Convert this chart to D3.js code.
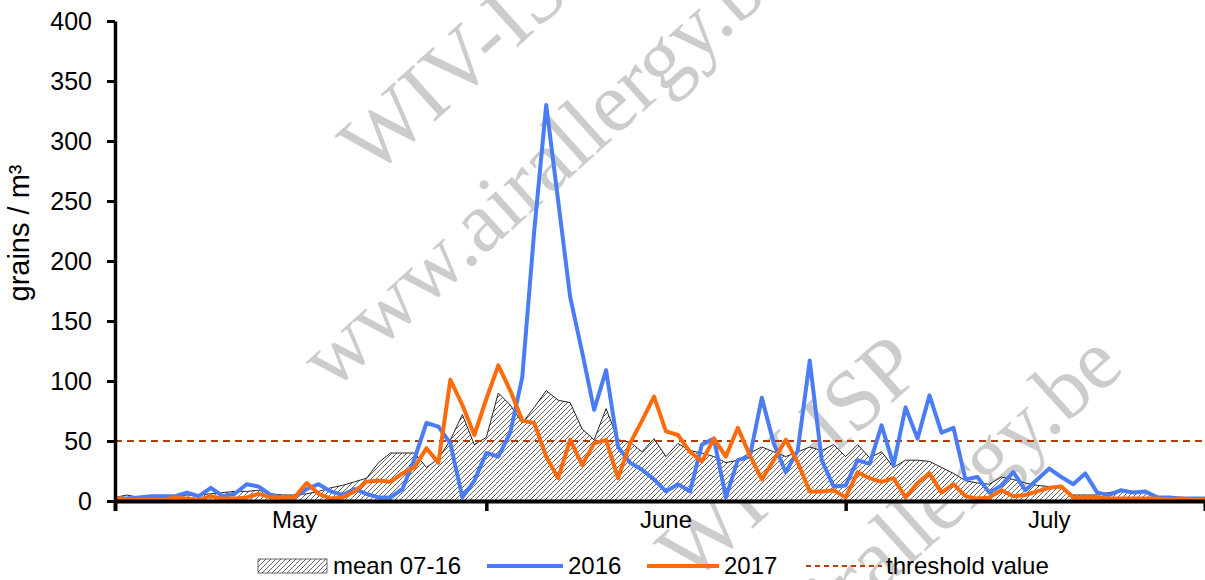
<!DOCTYPE html>
<html><head><meta charset="utf-8">
<script src="https://cdn.jsdelivr.net/npm/d3@7"></script>
<style>
body{margin:0;background:#fff}
svg{display:block}
text{font-family:"Liberation Sans",Arial,sans-serif;fill:#000}
</style>
</head><body>
<svg id="chart" width="1205" height="580"></svg>
<script>
// ---- data ----
const startDate = "2017-05-01";
const endDate = "2017-07-31";
const mean0716 = [3,5,3,4,4,4,5,5,6,7, 8,8,9,6,5,5,6,8,11,13, 16,19,32,40,40,40,28,35,51,72, 47,53,90,80,65,78,92,84,82,60, 51,77,51,49,41,52,37,48,42,40, 37,32,34,40,45,41,37,41,45,42, 47,37,47,36,41,28,34,34,33,28, 23,17,15,14,20,18,15,13,12,12, 5,5,5,7,9,8,7,4,3,2, 2,2];
const values2016 = [2,2,3,4,4,4,7,4,11,4, 6,14,12,5,3,3,10,14,8,5, 10,6,3,3,10,35,65,62,48,3, 17,40,37,57,103,225,330,250,170,124, 76,109,45,32,26,18,8,14,8,47, 52,3,34,37,86,48,24,42,117,34, 12,13,34,31,63,30,78,52,88,57, 61,18,20,7,13,24,9,18,27,20, 14,23,7,5,9,7,8,3,3,2, 2,2];
const values2017 = [3,1,1,1,1,3,2,1,4,2, 2,3,6,3,3,3,15,6,2,3, 8,16,17,16,23,28,44,32,101,80, 55,85,113,92,67,65,37,19,51,30, 48,51,19,48,67,87,58,55,41,33, 52,37,61,38,18,34,51,32,8,8, 9,3,24,19,16,19,3,15,23,7, 14,4,2,3,9,4,5,8,11,12, 3,3,3,2,2,2,2,2,1,2, 1,1];
const thresholdValue = 50;
const yTicks = [0,50,100,150,200,250,300,350,400];
const monthNames = ["May","June","July"];
const monthLabelDates = ["2017-05-16","2017-06-16","2017-07-18"];
const monthBoundaries = ["2017-06-01","2017-07-01"];
const legendLabels = ["mean 07-16","2016","2017","threshold value"];
const yTitle = "grains / m³";
const watermarkLines = ["WIV-ISP","www.airallergy.be"];

// ---- setup ----
const svg = d3.select("#chart");
const parse = d3.utcParse("%Y-%m-%d");
const day0 = parse(startDate);
const dates = mean0716.map((_, i) => d3.utcDay.offset(day0, i));

const x = d3.scaleUtc().domain([day0, parse(endDate)]).range([115, 1205]);
const y = d3.scaleLinear().domain([0, 400]).range([501, 21]);

// pattern
const defs = svg.append("defs");
const pat = defs.append("pattern").attr("id","hatch").attr("patternUnits","userSpaceOnUse")
  .attr("width",5).attr("height",5);
pat.append("rect").attr("width",5).attr("height",5).attr("fill","#fff");
pat.append("path").attr("d","M0,5 L5,0 M-1,1 L1,-1 M4,6 L6,4")
  .attr("stroke","#555").attr("stroke-width",0.9);

// watermark
const wm = svg.append("g").attr("class","watermark");
const wmPlaces = [
  {x:372, y:178, t:0},{x:332, y:392, t:1},
  {x:690, y:585, t:0},{x:660, y:790, t:1}
];
wmPlaces.forEach(p => {
  wm.append("text").attr("transform",`translate(${p.x},${p.y}) rotate(-42)`)
    .style("font-family","'Liberation Serif','DejaVu Serif',serif")
    .attr("font-size",86).style("fill","#cccccc")
    .text(watermarkLines[p.t]);
});

// area
const area = d3.area().x((d,i)=>x(dates[i])).y0(y(0)).y1(d=>y(d));
svg.append("path").datum(mean0716).attr("d",area).attr("fill","url(#hatch)");
const outline = d3.line().x((d,i)=>x(dates[i])).y(d=>y(d));
svg.append("path").datum(mean0716).attr("d",outline).attr("fill","none")
  .attr("stroke","#222").attr("stroke-width",1);

// threshold
svg.append("line").attr("x1",x.range()[0]).attr("x2",x.range()[1])
  .attr("y1",y(thresholdValue)).attr("y2",y(thresholdValue))
  .attr("stroke","#b23c0a").attr("stroke-width",2).attr("stroke-dasharray","7,5");

// lines
const line = d3.line().x((d,i)=>x(dates[i])).y(d=>y(d)).curve(d3.curveLinear);
svg.append("path").datum(values2016).attr("d",line).attr("fill","none")
  .attr("stroke","#4a7cf6").attr("stroke-width",4).attr("stroke-linejoin","round");
svg.append("path").datum(values2017).attr("d",line).attr("fill","none")
  .attr("stroke","#ff6a0a").attr("stroke-width",4).attr("stroke-linejoin","round");

// y axis
const yAxis = svg.append("g").attr("transform","translate(115,0)")
  .call(d3.axisLeft(y).tickValues(yTicks).tickSize(8).tickSizeOuter(0).tickPadding(15));
yAxis.select(".domain").attr("stroke","#000").attr("stroke-width",3.5);
yAxis.selectAll(".tick line").attr("stroke","#000").attr("stroke-width",3);
yAxis.selectAll(".tick text").attr("font-size",25).style("font-family","'Liberation Sans',Arial,sans-serif");

// x axis
const xAxis = svg.append("g").attr("transform","translate(0,501)")
  .call(d3.axisBottom(x).tickValues(monthBoundaries.map(parse)).tickSize(10).tickSizeOuter(10).tickFormat(""));
xAxis.select(".domain").attr("stroke","#000").attr("stroke-width",4);
xAxis.selectAll(".tick line").attr("stroke","#000").attr("stroke-width",3.5);

// month labels
monthNames.forEach((m,i)=>{
  svg.append("text").attr("x",x(parse(monthLabelDates[i]))).attr("y",528).attr("text-anchor","middle")
    .attr("font-size",24).text(m);
});

// y title
svg.append("text").attr("transform","translate(29,233) rotate(-90)")
  .attr("text-anchor","middle").attr("font-size",29).text(yTitle);

// legend
const ly = 566;
const lg = svg.append("g");
lg.append("rect").attr("x",258).attr("y",ly-7).attr("width",69).attr("height",14)
  .attr("fill","url(#hatch)").attr("stroke","#444").attr("stroke-width",0.8);
lg.append("text").attr("x",333).attr("y",ly+8).attr("font-size",24).text(legendLabels[0]);
lg.append("line").attr("x1",487).attr("x2",563).attr("y1",ly).attr("y2",ly)
  .attr("stroke","#4a7cf6").attr("stroke-width",4);
lg.append("text").attr("x",568).attr("y",ly+8).attr("font-size",24).text(legendLabels[1]);
lg.append("line").attr("x1",647).attr("x2",719).attr("y1",ly).attr("y2",ly)
  .attr("stroke","#ff6a0a").attr("stroke-width",4);
lg.append("text").attr("x",724).attr("y",ly+8).attr("font-size",24).text(legendLabels[2]);
lg.append("line").attr("x1",806).attr("x2",882).attr("y1",ly).attr("y2",ly)
  .attr("stroke","#b23c0a").attr("stroke-width",2).attr("stroke-dasharray","5,4");
lg.append("text").attr("x",886).attr("y",ly+8).attr("font-size",24).text(legendLabels[3]);
</script>
</body></html>
